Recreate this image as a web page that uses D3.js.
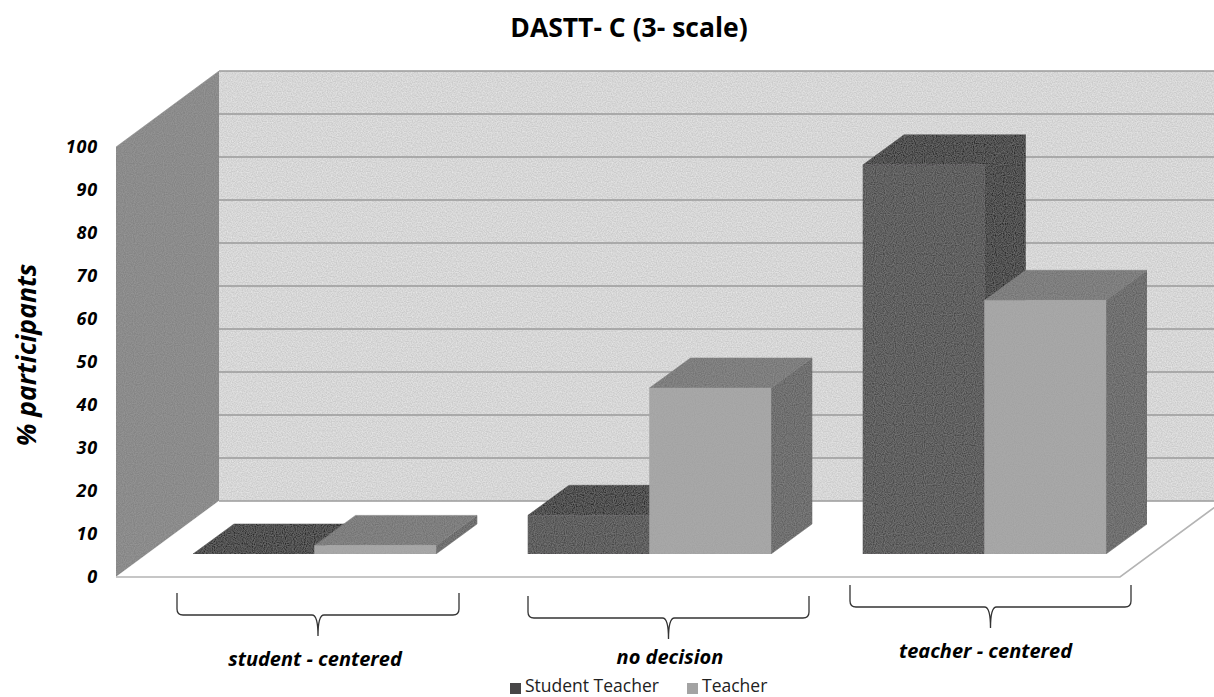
<!DOCTYPE html>
<html><head><meta charset="utf-8">
<style>html,body{margin:0;padding:0;background:#fff}svg{display:block}text{font-family:"Open Sans",sans-serif;fill:#000}</style>
<script src="https://cdn.jsdelivr.net/npm/d3@7"></script>
</head><body><div id="c"></div>
<script>
const categories = ["student - centered","no decision","teacher - centered"];
const seriesNames = ["Student Teacher","Teacher"];
const studentTeacher = [0, 9, 90.5];
const teacher = [2, 38.6, 59];
const yTicks = [0,10,20,30,40,50,60,70,80,90,100];
const title = "DASTT- C (3- scale)";
const yTitle = "% participants";

const W=1214,H=697;
const svg=d3.select("#c").append("svg").attr("width",W).attr("height",H);
const defs=svg.append("defs");
const f=defs.append("filter").attr("id","grain").attr("x",0).attr("y",0).attr("width",1).attr("height",1);
f.append("feTurbulence").attr("type","fractalNoise").attr("baseFrequency",0.9).attr("numOctaves",1).attr("seed",3).attr("result","n");
f.append("feColorMatrix").attr("in","n").attr("type","matrix").attr("values","0 0 0 0 0.5  0 0 0 0 0.5  0 0 0 0 0.5  0.5 0 0 0 -0.12").attr("result","g");
f.append("feComposite").attr("in","g").attr("in2","SourceAlpha").attr("operator","in").attr("result","gc");
f.append("feMerge").selectAll("feMergeNode").data(["SourceGraphic","gc"]).enter().append("feMergeNode").attr("in",d=>d);
const f2=defs.append("filter").attr("id","speck").attr("x",0).attr("y",0).attr("width",1).attr("height",1);
f2.append("feTurbulence").attr("type","fractalNoise").attr("baseFrequency",0.8).attr("numOctaves",1).attr("seed",7).attr("result","n");
f2.append("feColorMatrix").attr("in","n").attr("type","matrix").attr("values","0 0 0 0 1  0 0 0 0 1  0 0 0 0 1  0.9 0 0 0 -0.25").attr("result","g");
f2.append("feComposite").attr("in","g").attr("in2","SourceAlpha").attr("operator","in").attr("result","gc");
f2.append("feMerge").selectAll("feMergeNode").data(["SourceGraphic","gc"]).enter().append("feMergeNode").attr("in",d=>d);

const y=d3.scaleLinear().domain([0,100]).range([577,147]);
const x=d3.scaleBand().domain(categories).range([193,1106]).paddingInner(0.2746).paddingOuter(0);
const xs=d3.scaleBand().domain(seriesNames).range([0,x.bandwidth()]);
const wallDx=103,wallDy=-76,barDx=41,barDy=-30,floorGap=-23;
const wallX0=116,wallRight=1240,floorRight=1120;
const poly=(g,pts,fill,stroke)=>g.append("polygon").attr("points",pts.map(p=>p.join(",")).join(" ")).attr("fill",fill).attr("stroke",stroke||fill).attr("stroke-width",stroke?1:0.5);

const scene=svg.append("g");
// back wall
poly(scene.append("g").attr("filter","url(#speck)"),[[wallX0+wallDx,y(100)+wallDy],[wallRight,y(100)+wallDy],[wallRight,y(0)+wallDy],[wallX0+wallDx,y(0)+wallDy]],"#cbcbcb");
// side wall
poly(scene.append("g").attr("filter","url(#grain)"),[[wallX0,y(100)],[wallX0+wallDx,y(100)+wallDy],[wallX0+wallDx,y(0)+wallDy],[wallX0,y(0)]],"#838383");
// floor
poly(scene,[[wallX0,y(0)],[floorRight,y(0)],[floorRight+wallDx,y(0)+wallDy],[wallX0+wallDx,y(0)+wallDy]],"#fff");
scene.append("path").attr("d",`M${wallX0},${y(0)}H${floorRight}L${floorRight+wallDx},${y(0)+wallDy}`).attr("fill","none").attr("stroke","#b4b4b4").attr("stroke-width",1.6);
// gridlines
scene.append("g").selectAll("line").data(yTicks).enter().append("line")
 .attr("x1",wallX0+wallDx).attr("x2",wallRight)
 .attr("y1",d=>y(d)+wallDy).attr("y2",d=>y(d)+wallDy)
 .attr("stroke","#9a9a9a").attr("stroke-width",1.4);

// bars
const colors={"Student Teacher":{front:"#474647",top:"#2c2c2c",side:"#292929"},"Teacher":{front:"#a3a3a3",top:"#727272",side:"#5f5f5f"}};
const barsG=scene.append("g").attr("filter","url(#grain)");
const seriesVals={"Student Teacher":studentTeacher,"Teacher":teacher};
categories.forEach((c,i)=>{
 seriesNames.forEach(s=>{
  const v=seriesVals[s][i],x0=x(c)+xs(s),x1=x0+xs.bandwidth();
  const b=y(0)+floorGap,t=y(v)+floorGap,col=colors[s];
  poly(barsG,[[x1,t],[x1+barDx,t+barDy],[x1+barDx,b+barDy],[x1,b]],col.side);
  poly(barsG,[[x0,t],[x0+barDx,t+barDy],[x1+barDx,t+barDy],[x1,t]],col.top);
  if(v>0) poly(barsG,[[x0,t],[x1,t],[x1,b],[x0,b]],col.front);
 });
});

// y axis
const ax=svg.append("g").attr("transform","translate(98,0)").call(d3.axisLeft(y).tickValues(yTicks).tickSize(0).tickPadding(0));
ax.select(".domain").remove();
ax.selectAll("text").style("font-family",'"Open Sans",sans-serif').style("font-size","18px").style("font-weight",700).style("font-style","italic").style("letter-spacing","0.8px").attr("fill","#000").attr("dy","0.33em");

// titles
svg.append("text").attr("x",629).attr("y",37).attr("text-anchor","middle").style("font-size","26.5px").style("font-weight",700).text(title);
svg.append("text").attr("transform","translate(36,355) rotate(-90)").attr("text-anchor","middle").style("font-size","26.5px").style("font-weight",700).style("font-style","italic").text(yTitle);

// braces and labels
const braceSpec=[{w:141,top:593,tx:315,ty:666},{w:140.5,top:596,tx:670,ty:664},{w:140.5,top:585,tx:985.5,ty:658}];
const braceCx=[318,668.5,990.5];
categories.forEach((c,i)=>{
 const s=braceSpec[i],cx=braceCx[i],L=cx-s.w,R=cx+s.w,m=s.top+22,tip=s.top+43;
 svg.append("path").attr("fill","none").attr("stroke","#333").attr("stroke-width",1.3)
  .attr("d",`M${L},${s.top}V${m-6}Q${L},${m} ${L+6},${m}H${cx-6}Q${cx},${m} ${cx},${tip}Q${cx},${m} ${cx+6},${m}H${R-6}Q${R},${m} ${R},${m-6}V${s.top}`);
 svg.append("text").attr("x",s.tx).attr("y",s.ty).attr("text-anchor","middle").style("font-size","20px").style("font-weight",700).style("font-style","italic").text(c);
});

// legend
const legX=[510,687];
seriesNames.forEach((s,i)=>{
 svg.append("rect").attr("x",legX[i]).attr("y",683).attr("width",11).attr("height",11).attr("fill",colors[s].front);
 svg.append("text").attr("x",legX[i]+15).attr("y",692).style("font-size","17.5px").style("fill","#222").text(s);
});
</script></body></html>
